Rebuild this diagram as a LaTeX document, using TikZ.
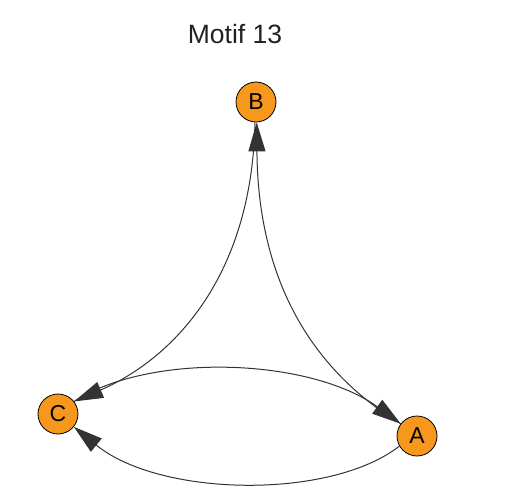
\documentclass[tikz,border=0pt]{standalone}
\usepackage{fontspec}
\setmainfont{Liberation Sans}
\usetikzlibrary{arrows.meta}
\definecolor{vertexorange}{RGB}{247,152,29}
\definecolor{edgegray}{RGB}{51,51,51}
\tikzset{
VERTEX/.style ={circle,draw=black,fill=vertexorange,line width=0.8pt,minimum size=40pt,inner sep=0pt,font=\fontsize{23}{23}\selectfont},
LINK/.style ={draw=edgegray,line width=1pt},
EDGE/.style ={LINK,-{Triangle[length=29pt,width=17pt]}},
TITLE/.style ={font=\fontsize{26.5}{26.5}\selectfont,text=black!87},
}
\begin{document}
\begin{tikzpicture}[x=1pt, y=-1pt] %Motif 13
	\useasboundingbox (0,0) rectangle (509,492);
	\node[TITLE] (title) at (235,34) {Motif 13};
	\node[VERTEX] (B) at (256,102) {B};
	\node[VERTEX] (C) at (58,414) {C};
	\node[VERTEX] (A) at (417,436) {A};
	\path[EDGE] (B.-93) .. controls (252,280) and (170,360) .. (C.38);
	\path[EDGE] (A.143) .. controls (320,375) and (258,290) .. (B.-88);
	\path[EDGE] (C.38) .. controls (150,352) and (310,358) .. (A.143);
	\path[EDGE] (A.210) .. controls (330,500) and (160,497) .. (C.-39);
\end{tikzpicture}
\end{document}
